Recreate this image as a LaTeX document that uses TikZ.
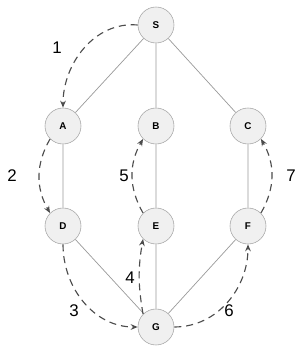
\documentclass[tikz,border=0pt]{standalone}
\usepackage{fontspec}
\setmainfont{Liberation Sans}
\usetikzlibrary{arrows.meta}

\begin{document}
\begin{tikzpicture}[x=0.025cm, y=-0.025cm,
  vertex/.style = {circle, draw=gray!70, fill=gray!12, minimum size=0.9cm, inner sep=0pt, font=\fontsize{7}{8}\selectfont\bfseries},
  hop/.style = {draw=black!70, line width=0.8pt, dash pattern=on 5pt off 3.5pt, -{Stealth[length=5pt,width=4pt]}},
  num/.style = {font=\fontsize{12}{14}\selectfont}]
\useasboundingbox (0,0) rectangle (301,350);
\node[vertex] (S) at (156, 25) {S};
\node[vertex] (A) at (63, 126) {A};
\node[vertex] (B) at (156, 126) {B};
\node[vertex] (C) at (248, 126) {C};
\node[vertex] (D) at (63, 226) {D};
\node[vertex] (E) at (156, 226) {E};
\node[vertex] (F) at (248, 226) {F};
\node[vertex] (G) at (156, 327) {G};
\draw[gray!80, line width=0.5pt] (S) -- (A) (S) -- (B) (S) -- (C)
  (A) -- (D) (B) -- (E) (C) -- (F)
  (D) -- (G) (E) -- (G) (F) -- (G);
\draw[hop] (S.west) to[out=175, in=90] (A.north);
\draw[hop] (A.south west) to[out=240, in=120] (D.north west);
\draw[hop] (D.south) to[out=270, in=180] (G.west);
\draw[hop] (G.north west) to[out=100, in=260] (E.south west);
\draw[hop] (E.north west) to[out=120, in=240] (B.south west);
\draw[hop] (G.east) to[out=0, in=270] (F.south);
\draw[hop] (F.north east) to[out=60, in=300] (C.south east);
\node[num] (n1) at (57, 48) {1};
\node[num] (n2) at (12, 176) {2};
\node[num] (n3) at (74, 311) {3};
\node[num] (n4) at (130, 278) {4};
\node[num] (n5) at (124, 176) {5};
\node[num] (n6) at (229, 311) {6};
\node[num] (n7) at (291, 176) {7};
\end{tikzpicture}
\end{document}
